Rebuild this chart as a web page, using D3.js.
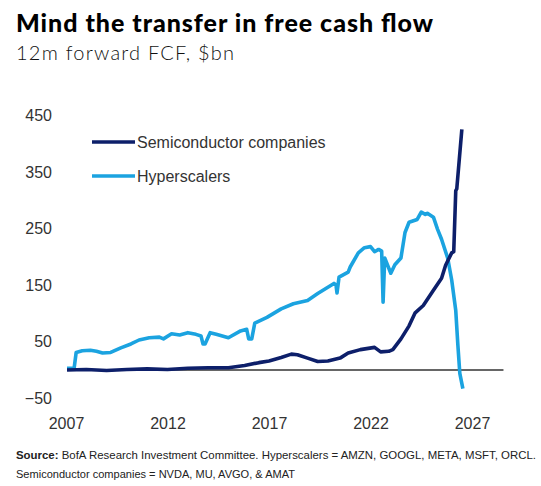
<!DOCTYPE html>
<html>
<head>
<meta charset="utf-8">
<script src="https://cdn.jsdelivr.net/npm/d3@7"></script>
<style>
  body { margin: 0; background: #fff; }
  svg { display: block; }
</style>
</head>
<body>
<svg id="chart"></svg>
<script>
const width = 541;
const height = 486;

// decimal years + values ($bn)
const hyperYears = [2007.05, 2007.4, 2007.5, 2007.8, 2008.2, 2008.5, 2008.8, 2009.2, 2009.7, 2010.2, 2010.6, 2011.1, 2011.6, 2011.8, 2012.2, 2012.6, 2013.0, 2013.4, 2013.65, 2013.75, 2013.85, 2014.1, 2014.4, 2015.0, 2015.6, 2015.9, 2016.0, 2016.15, 2016.3, 2016.9, 2017.6, 2018.2, 2018.9, 2019.4, 2019.8, 2020.2, 2020.3, 2020.35, 2020.45, 2020.9, 2021.0, 2021.4, 2021.7, 2022.0, 2022.2, 2022.4, 2022.55, 2022.62, 2022.7, 2023.0, 2023.2, 2023.5, 2023.7, 2023.9, 2024.3, 2024.5, 2024.7, 2024.8, 2025.1, 2025.3, 2025.5, 2025.8, 2026.0, 2026.2, 2026.3, 2026.4, 2026.55];
const hyperValues = [3, 3, 31, 34, 35, 33, 30, 31, 39, 46, 53, 57, 58, 55, 64, 62, 66, 63, 60, 46, 46, 66, 63, 57, 69, 72, 55, 55, 83, 93, 108, 117, 123, 135, 144, 153, 150, 136, 164, 173, 182, 207, 216, 218, 209, 213, 210, 120, 198, 171, 186, 198, 243, 261, 266, 279, 275, 277, 270, 249, 231, 198, 159, 105, 46, -6, -33];

const semiYears = [2007.05, 2008, 2009, 2010, 2011, 2012, 2013, 2014, 2015, 2015.8, 2016.5, 2017.0, 2017.6, 2018.1, 2018.4, 2018.9, 2019.4, 2019.9, 2020.5, 2020.9, 2021.5, 2022.2, 2022.5, 2022.9, 2023.1, 2023.5, 2023.9, 2024.2, 2024.6, 2025.1, 2025.5, 2025.7, 2026.0, 2026.1, 2026.2, 2026.25, 2026.5];
const semiValues = [0, 1, -1, 1, 2, 1, 3, 4, 4, 8, 13, 16, 22, 28, 27, 21, 15, 16, 21, 30, 36, 40, 32, 33, 36, 55, 78, 101, 114, 141, 162, 185, 207, 209, 317, 320, 425];

const xTicks = [2007, 2012, 2017, 2022, 2027];
const yTicks = [-50, 50, 150, 250, 350, 450];
const seriesNames = ["Semiconductor companies", "Hyperscalers"];
const seriesColors = ["#0d1f6a", "#1ba3e0"];

const svg = d3.select("#chart")
  .attr("width", width)
  .attr("height", height)
  .style("font-family", "'Liberation Sans', sans-serif");

const x = d3.scaleLinear().domain([2007, 2027]).range([66, 472]);
const y = d3.scaleLinear().domain([-50, 450]).range([398.3, 115.3]);

// titles
svg.append("text")
  .attr("x", 16).attr("y", 32)
  .style("font-family", "Lato, sans-serif")
  .style("font-weight", 900)
  .style("font-size", "25px")
  .attr("textLength", 417)
  .attr("lengthAdjust", "spacing")
  .attr("fill", "#000")
  .text("Mind the transfer in free cash flow");

svg.append("text")
  .attr("x", 16).attr("y", 60)
  .style("font-family", "Lato, sans-serif")
  .style("font-weight", 300)
  .style("font-size", "20px")
  .attr("textLength", 218)
  .attr("lengthAdjust", "spacing")
  .attr("fill", "#111")
  .text("12m forward FCF, $bn");

// axes
const yAxis = svg.append("g")
  .attr("transform", "translate(52,0)")
  .call(d3.axisLeft(y).tickValues(yTicks).tickSize(0).tickPadding(0));
yAxis.select(".domain").remove();
yAxis.selectAll("text")
  .style("font-family", "'Liberation Sans', sans-serif")
  .style("font-size", "16px")
  .attr("fill", "#333");

const xAxis = svg.append("g")
  .attr("transform", "translate(0,418)")
  .call(d3.axisBottom(x).tickValues(xTicks).tickFormat(d3.format("d")).tickSize(0).tickPadding(0));
xAxis.select(".domain").remove();
xAxis.selectAll("text")
  .style("font-family", "'Liberation Sans', sans-serif")
  .style("font-size", "16px")
  .attr("fill", "#333");

// zero line
svg.append("line")
  .attr("x1", x(2007.05)).attr("x2", x(2028.55))
  .attr("y1", y(0)).attr("y2", y(0))
  .attr("stroke", "#333")
  .attr("stroke-width", 1.3);

// series
const line = d3.line()
  .x(d => x(d[0]))
  .y(d => y(d[1]));

const hyper = hyperYears.map((d, i) => [d, hyperValues[i]]);
const semi = semiYears.map((d, i) => [d, semiValues[i]]);

svg.append("path")
  .attr("d", line(hyper))
  .attr("fill", "none")
  .attr("stroke", seriesColors[1])
  .attr("stroke-width", 3.6)
  .attr("stroke-linejoin", "round");

svg.append("path")
  .attr("d", line(semi))
  .attr("fill", "none")
  .attr("stroke", seriesColors[0])
  .attr("stroke-width", 3.6)
  .attr("stroke-linejoin", "round");

// legend
const legend = svg.selectAll(".legend")
  .data(seriesNames).enter().append("g")
  .attr("transform", (d, i) => `translate(92,${142 + i * 34})`);
legend.append("line")
  .attr("x1", 0).attr("x2", 43)
  .attr("stroke", (d, i) => seriesColors[i])
  .attr("stroke-width", 3.4);
legend.append("text")
  .attr("x", 45).attr("y", 5.5)
  .style("font-size", "16px")
  .attr("fill", "#333")
  .text(d => d);

// source
const src = svg.append("text")
  .attr("x", 16).attr("y", 459)
  .style("font-size", "11.5px")
  .attr("textLength", 520)
  .attr("lengthAdjust", "spacingAndGlyphs")
  .attr("fill", "#222");
src.append("tspan").style("font-weight", "bold").text("Source:");
src.append("tspan").text(" BofA Research Investment Committee. Hyperscalers = AMZN, GOOGL, META, MSFT, ORCL.");

svg.append("text")
  .attr("x", 16).attr("y", 478)
  .style("font-size", "11.5px")
  .attr("textLength", 279)
  .attr("lengthAdjust", "spacingAndGlyphs")
  .attr("fill", "#222")
  .text("Semiconductor companies = NVDA, MU, AVGO, & AMAT");
</script>
</body>
</html>
